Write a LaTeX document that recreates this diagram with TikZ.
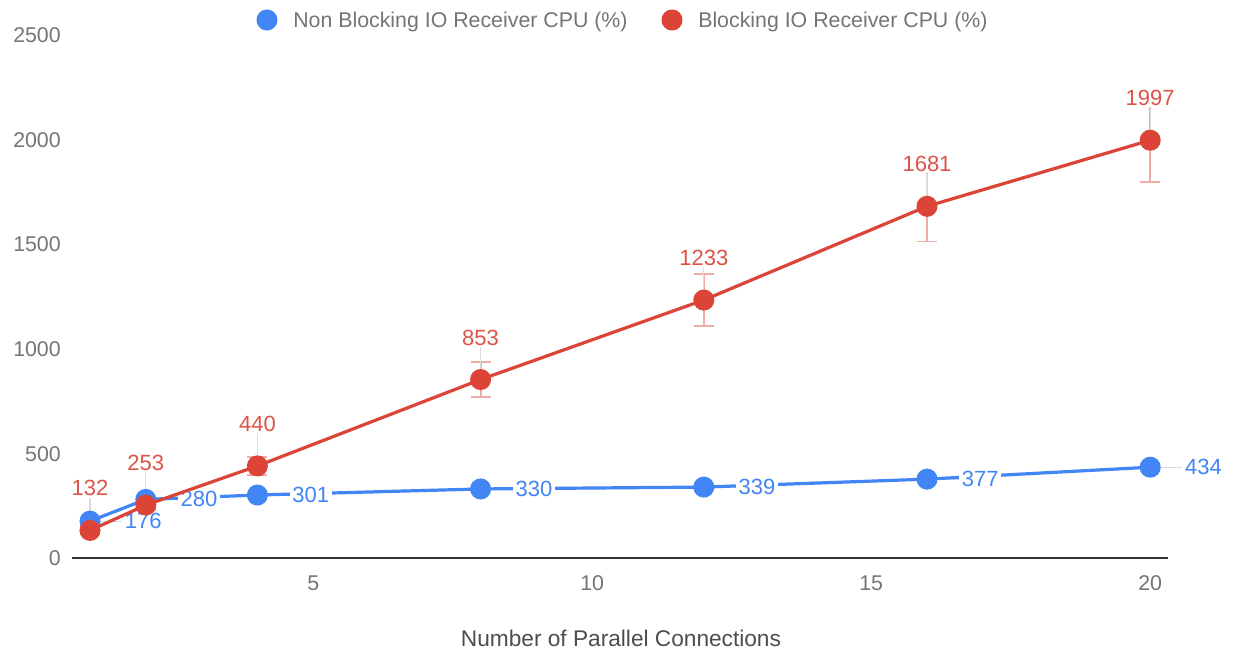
\documentclass[tikz,border=0pt]{standalone}
\usepackage{fontspec}
\setmainfont{Liberation Sans}
\definecolor{nbblue}{HTML}{4285F4}
\definecolor{bred}{HTML}{DB4437}
\definecolor{ticktext}{HTML}{757575}
\definecolor{titletext}{HTML}{4D4D4D}
\definecolor{stemgray}{HTML}{DADADA}
\definecolor{axisline}{HTML}{333333}
\pgfdeclarelayer{paper}
\pgfdeclarelayer{back}
\pgfsetlayers{paper,back,main}
\begin{document}
\begin{tikzpicture}[x=0.75pt,y=-0.75pt,
  tick/.style={text=ticktext, font=\fontsize{16}{19}\selectfont, inner sep=0pt},
  axtitle/.style={text=titletext, font=\fontsize{17}{20}\selectfont, inner sep=0pt},
  legtext/.style={text=ticktext, font=\fontsize{16}{19}\selectfont, inner sep=0pt, anchor=base west},
  dot/.style={circle, inner sep=0pt, minimum size=15.8pt},
  bdot/.style={dot, fill=nbblue},
  rdot/.style={dot, fill=bred},
  bline/.style={nbblue, line width=2.4pt, line join=round},
  rline/.style={bred, line width=2.4pt, line join=round},
  errbar/.style={bred!45!white, line width=1.4pt},
  stem/.style={stemgray, line width=0.8pt},
  blab/.style={text=nbblue, fill=white, font=\fontsize{16.5}{19}\selectfont,
    inner xsep=2pt, inner ysep=0pt, anchor=west, xshift=24pt},
  rlab/.style={text=bred!92!white, fill=white, font=\fontsize{16.5}{19}\selectfont,
    inner xsep=1.5pt, inner ysep=1pt, yshift=31.5pt}]
\begin{pgfonlayer}{paper}
  \fill[white] (0,0) rectangle (1233,652);
\end{pgfonlayer}
\useasboundingbox (0,0) rectangle (1233,652);

% value axis labels
\foreach \v/\py in {0/558,500/454,1000/349,1500/244,2000/140,2500/35}
  \node[tick, anchor=east] (yl\v) at (61,\py) {\v};

% category axis labels and baseline
\draw[axisline, line width=1.1pt] (72,558) -- (1168,558);
\foreach \v/\px in {5/313.2,10/592.2,15/871.2,20/1150.2}
  \node[tick] (xl\v) at (\px,583) {\v};
\node[axtitle] (xtitle) at (621,638) {Number of Parallel Connections};

% legend
\node[bdot] (lgb) at (267,20) {};
\node[legtext] (ltb) at (293,27.5) {Non Blocking IO Receiver CPU (\%)};
\node[rdot] (lgr) at (672,20) {};
\node[legtext] (ltr) at (698,27.5) {Blocking IO Receiver CPU (\%)};

% data area: x in connections, y in CPU percent
\begin{scope}[shift={(34.2,558)}, x=41.85pt, y=0.1569pt]
  \coordinate (bp1) at (1,176);
  \coordinate (bp2) at (2,280);
  \coordinate (bp3) at (4,301);
  \coordinate (bp4) at (8,330);
  \coordinate (bp5) at (12,339);
  \coordinate (bp6) at (16,377);
  \coordinate (bp7) at (20,434);
  \coordinate (rp1) at (1,132);
  \coordinate (rp2) at (2,253);
  \coordinate (rp3) at (4,440);
  \coordinate (rp4) at (8,853);
  \coordinate (rp5) at (12,1233);
  \coordinate (rp6) at (16,1681);
  \coordinate (rp7) at (20,1997);

  % error bars of the blocking series (10 %)
  \begin{pgfonlayer}{back}
    \foreach \x/\v in {1/132,2/253,4/440,8/853,12/1233,16/1681,20/1997} {
      \draw[errbar] (\x,{0.9*\v}) -- (\x,{1.1*\v});
      \draw[errbar] ([xshift=-7.5pt]\x,{0.9*\v}) -- ([xshift=7.5pt]\x,{0.9*\v});
      \draw[errbar] ([xshift=-7.5pt]\x,{1.1*\v}) -- ([xshift=7.5pt]\x,{1.1*\v});
    }
  \end{pgfonlayer}

  % non blocking series
  \draw[bline] (bp1) -- (bp2) -- (bp3) -- (bp4) -- (bp5) -- (bp6) -- (bp7);
  \foreach \i in {1,...,7} \node[bdot] (bd\i) at (bp\i) {};
  \foreach \i/\v in {1/176,2/280,3/301,4/330,5/339,6/377,7/434}
    \node[blab] (bl\i) at (bp\i) {\v};

  % blocking series
  \draw[rline] (rp1) -- (rp2) -- (rp3) -- (rp4) -- (rp5) -- (rp6) -- (rp7);
  \foreach \i in {1,...,7} \node[rdot] (rd\i) at (rp\i) {};
  \foreach \i/\v in {1/132,2/253,3/440,4/853,5/1233,6/1681,7/1997}
    \node[rlab] (rl\i) at (rp\i) {\v};

  % annotation stems
  \begin{pgfonlayer}{back}
    \foreach \i in {1,...,7} {
      \draw[stem] (bp\i) -- (bl\i.west);
      \draw[stem] (rp\i) -- (rl\i.south);
    }
  \end{pgfonlayer}
\end{scope}
\end{tikzpicture}
\end{document}
